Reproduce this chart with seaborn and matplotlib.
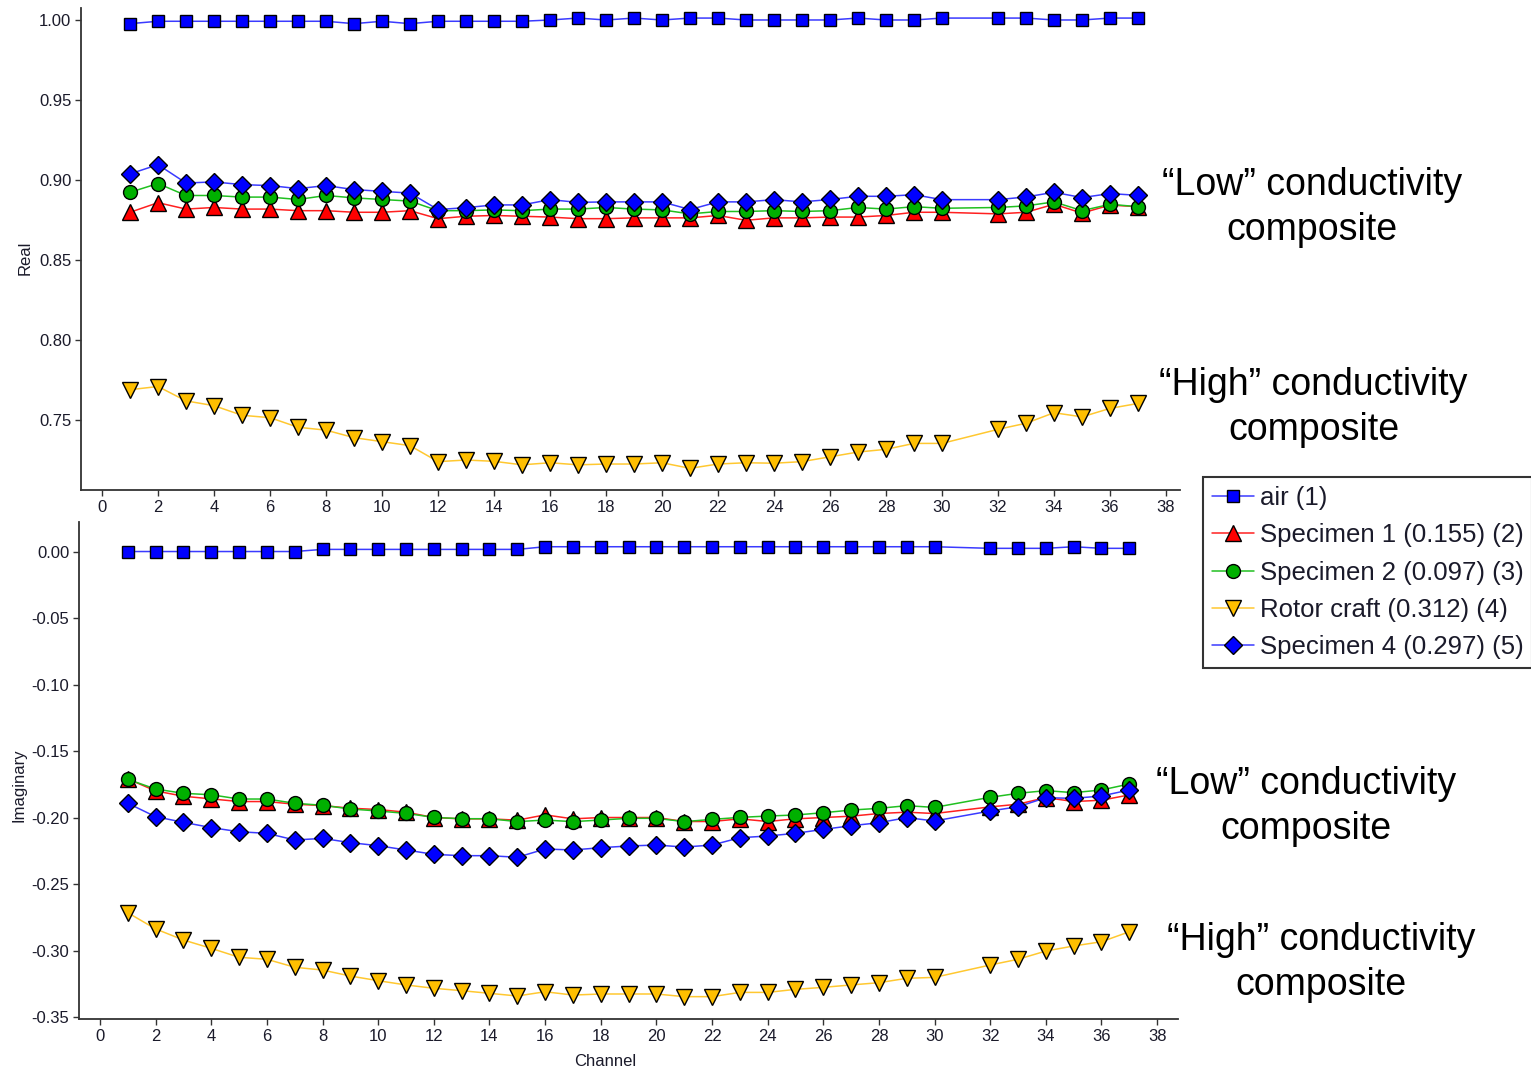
import matplotlib
matplotlib.use("Agg")
import matplotlib.pyplot as plt
import seaborn as sns
from matplotlib.ticker import FormatStrFormatter, FixedLocator

channels = list(range(1, 31)) + list(range(32, 38))

series_names = ["air (1)", "Specimen 1 (0.155) (2)", "Specimen 2 (0.097) (3)",
                "Rotor craft (0.312) (4)", "Specimen 4 (0.297) (5)"]

air_real = [0.998, 0.9995, 0.9995, 0.9995, 0.9995, 0.9995, 0.9995, 0.9995, 0.998, 0.9995,
            0.998, 0.9995, 0.9995, 0.9995, 0.9995, 1.0003, 1.0015, 1.0003, 1.0015, 1.0003,
            1.0015, 1.0015, 1.0003, 1.0003, 1.0003, 1.0003, 1.0015, 1.0003, 1.0003, 1.0015,
            1.0015, 1.0015, 1.0003, 1.0003, 1.0015, 1.0015]
spec1_real = [0.880, 0.886, 0.882, 0.883, 0.882, 0.882, 0.881, 0.881, 0.880, 0.880,
              0.881, 0.876, 0.8775, 0.878, 0.8775, 0.877, 0.876, 0.876, 0.8765, 0.8765,
              0.8765, 0.878, 0.875, 0.8765, 0.8765, 0.877, 0.877, 0.878, 0.880, 0.880,
              0.879, 0.880, 0.885, 0.8795, 0.8845, 0.8835]
spec2_real = [0.8925, 0.898, 0.8905, 0.8905, 0.8895, 0.8895, 0.888, 0.8905, 0.889, 0.888,
              0.887, 0.881, 0.881, 0.8815, 0.881, 0.882, 0.882, 0.883, 0.882, 0.8815,
              0.879, 0.8805, 0.8805, 0.881, 0.8805, 0.881, 0.883, 0.882, 0.8835, 0.8825,
              0.883, 0.884, 0.8865, 0.881, 0.885, 0.8835]
rotor_real = [0.769, 0.771, 0.762, 0.759, 0.753, 0.7515, 0.7455, 0.7437, 0.739, 0.7365,
              0.734, 0.724, 0.725, 0.7242, 0.722, 0.7233, 0.722, 0.7225, 0.7225, 0.7233,
              0.7198, 0.7225, 0.7233, 0.723, 0.724, 0.727, 0.730, 0.7317, 0.7354, 0.7354,
              0.7442, 0.748, 0.7546, 0.752, 0.7573, 0.7604]
spec4_real = [0.904, 0.9098, 0.8983, 0.899, 0.8973, 0.8967, 0.8948, 0.8967, 0.8942, 0.8931,
              0.892, 0.8817, 0.8829, 0.8846, 0.8846, 0.8879, 0.8862, 0.8865, 0.8865, 0.8865,
              0.8817, 0.8865, 0.8865, 0.8879, 0.8865, 0.888, 0.890, 0.890, 0.891, 0.8879,
              0.8879, 0.8896, 0.8925, 0.8892, 0.8917, 0.8906]

air_imag = [0.0, 0.0, 0.0, 0.0, 0.0, 0.0, 0.0, 0.0016, 0.0016, 0.0016,
            0.0016, 0.0016, 0.0016, 0.0016, 0.0016, 0.0036, 0.0036, 0.0036, 0.0036, 0.0036,
            0.0036, 0.0036, 0.0036, 0.0036, 0.0036, 0.0036, 0.0036, 0.0036, 0.0036, 0.0036,
            0.0024, 0.0024, 0.0024, 0.0036, 0.0024, 0.0024]
spec1_imag = [-0.171, -0.180, -0.184, -0.186, -0.188, -0.188, -0.190, -0.191, -0.193, -0.194,
              -0.196, -0.200, -0.201, -0.201, -0.202, -0.198, -0.201, -0.200, -0.200, -0.200,
              -0.203, -0.203, -0.201, -0.203, -0.201, -0.200, -0.199, -0.197, -0.196, -0.197,
              -0.192, -0.190, -0.185, -0.188, -0.187, -0.183]
spec2_imag = [-0.1713, -0.1786, -0.1818, -0.1829, -0.1861, -0.1861, -0.1893, -0.1908, -0.1936, -0.1951,
              -0.1969, -0.1999, -0.2009, -0.2009, -0.2031, -0.2019, -0.2031, -0.2019, -0.2006, -0.2006,
              -0.2031, -0.2014, -0.1999, -0.1989, -0.1981, -0.1964, -0.1944, -0.1931, -0.1911, -0.1924,
              -0.1848, -0.1818, -0.1798, -0.1813, -0.1793, -0.1748]
rotor_imag = [-0.2716, -0.2838, -0.2921, -0.2984, -0.3051, -0.3066, -0.3126, -0.3147, -0.3192, -0.3227,
              -0.3259, -0.3284, -0.3302, -0.3322, -0.3342, -0.3310, -0.3335, -0.3327, -0.3327, -0.3327,
              -0.3347, -0.3347, -0.3315, -0.3315, -0.3292, -0.3277, -0.3259, -0.3242, -0.3209, -0.3202,
              -0.3109, -0.3066, -0.3004, -0.2966, -0.2934, -0.2859]
spec4_imag = [-0.1893, -0.1994, -0.2036, -0.2076, -0.2107, -0.2119, -0.2169, -0.2157, -0.2189, -0.2212,
              -0.2244, -0.2277, -0.2287, -0.2287, -0.2299, -0.2237, -0.2244, -0.2227, -0.2214, -0.2207,
              -0.2222, -0.2207, -0.2152, -0.2139, -0.2119, -0.2089, -0.2062, -0.2039, -0.2001, -0.2026,
              -0.1951, -0.1919, -0.1851, -0.1856, -0.1838, -0.1793]

x_ticks = list(range(0, 40, 2))
real_ticks = [0.75, 0.80, 0.85, 0.90, 0.95, 1.00]
imag_ticks = [-0.35, -0.30, -0.25, -0.20, -0.15, -0.10, -0.05, 0.00]

sns.set_style("white")
plt.rcParams["font.family"] = ["Liberation Sans", "DejaVu Sans"]
plt.rcParams["axes.unicode_minus"] = False

styles = [
    dict(color="#0000ff", line="#3a3aff", marker="s", ms=9),
    dict(color="#ff0000", line="#ff2020", marker="^", ms=11),
    dict(color="#00b000", line="#20c020", marker="o", ms=10),
    dict(color="#ffbf00", line="#ffc830", marker="v", ms=11),
    dict(color="#0000ff", line="#3a3aff", marker="D", ms=9.5),
]

fig = plt.figure(figsize=(15.31, 10.72), dpi=100)
ax1 = fig.add_axes([81 / 1531, 1 - 490 / 1072, (1180 - 81) / 1531, (490 - 8) / 1072])
ax2 = fig.add_axes([79 / 1531, 1 - 1019 / 1072, (1178 - 79) / 1531, (1019 - 522) / 1072])

real_data = [air_real, spec1_real, spec2_real, rotor_real, spec4_real]
imag_data = [air_imag, spec1_imag, spec2_imag, rotor_imag, spec4_imag]

for ax, data in ((ax1, real_data), (ax2, imag_data)):
    for name, vals, st in zip(series_names, data, styles):
        sns.lineplot(x=channels, y=vals, ax=ax, color=st["line"], linewidth=1.1,
                     marker=st["marker"], markersize=st["ms"],
                     markerfacecolor=st["color"], markeredgecolor="black",
                     markeredgewidth=1.0, label=name, sort=False)
    ax.get_legend().remove()
    for s in ("top", "right"):
        ax.spines[s].set_visible(False)
    for s in ("left", "bottom"):
        ax.spines[s].set_color("#333333")
        ax.spines[s].set_linewidth(1.3)
    ax.xaxis.set_major_locator(FixedLocator(x_ticks))
    ax.tick_params(axis="both", which="major", length=4, width=1.0, color="#333333",
                   labelsize=12, labelcolor="#1a1a2a", direction="out", pad=3,
                   bottom=True, left=True)
    ax.yaxis.set_major_formatter(FormatStrFormatter("%.2f"))

ax1.set_xlim(-0.75, 38.5)
ax1.set_ylim(0.70625, 1.0078)
ax1.yaxis.set_major_locator(FixedLocator(real_ticks))
ax1.set_ylabel("Real", fontsize=12, color="#1a1a2a")
ax1.yaxis.set_label_coords(-0.044, 0.481)
ax1.set_xlabel("")

ax2.set_xlim(-0.755, 38.75)
ax2.set_ylim(-0.3515, 0.0222)
ax2.yaxis.set_major_locator(FixedLocator(imag_ticks))
ax2.set_ylabel("Imaginary", fontsize=12, color="#1a1a2a")
ax2.yaxis.set_label_coords(-0.048, 0.471)
ax2.set_xlabel("Channel", fontsize=12, color="#1a1a2a")
ax2.xaxis.set_label_coords(0.4786, -0.071)

handles, labels = ax1.get_legend_handles_labels()
leg = fig.legend(handles, labels, loc="upper left", bbox_to_anchor=(1203 / 1531, 1 - 477 / 1072),
                 frameon=True, fancybox=False, edgecolor="black", fontsize=18.5,
                 handlelength=1.65, handletextpad=0.2, labelspacing=0.52, borderpad=0.35,
                 borderaxespad=0.0)
leg.get_frame().set_linewidth(1.5)
for t in leg.get_texts():
    t.set_color("#1a1a2a")

notes = [
    (1312, 207.5, "\u201cLow\u201d conductivity\ncomposite"),
    (1313.5, 407.5, "\u201cHigh\u201d conductivity\ncomposite"),
    (1306, 806.5, "\u201cLow\u201d conductivity\ncomposite"),
    (1321, 962.5, "\u201cHigh\u201d conductivity\ncomposite"),
]
for xp, yp, txt in notes:
    fig.text(xp / 1531, 1 - yp / 1072, txt, ha="center", va="center", fontsize=27,
             color="black", linespacing=1.33, multialignment="center")

fig.savefig("out.png", dpi=100)
